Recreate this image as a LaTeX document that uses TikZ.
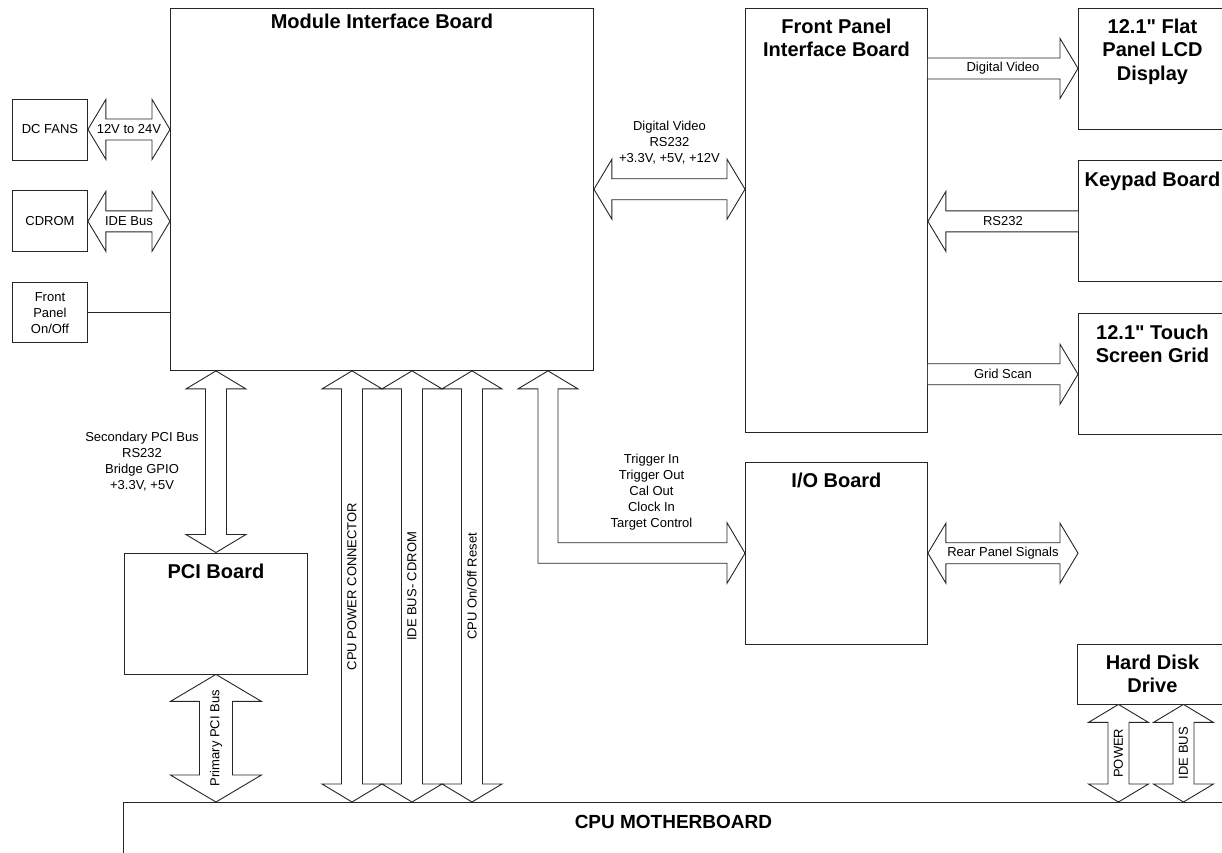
\documentclass[tikz,border=0pt]{standalone}
\usepackage{fontspec}
\setmainfont{Liberation Sans}[Ligatures=TeXOff]
\usetikzlibrary{calc, positioning}

\newcommand{\headlen}{18pt}
\newcommand{\headhw}{30pt}
\newcommand{\shafthw}{10.5pt}

% hollow bus arrow with heads at both ends
\newcommand{\busarrow}[5][]{%
  \path ($(#3)!\headlen!(#4)$) coordinate (ha) ($(#4)!\headlen!(#3)$) coordinate (hb);
  \draw[blockarrow] (#3) -- ($(ha)!\headhw!90:(#4)$) -- ($(ha)!\shafthw!90:(#4)$)
    -- ($(hb)!\shafthw!-90:(#3)$) -- ($(hb)!\headhw!-90:(#3)$) -- (#4)
    -- ($(hb)!\headhw!90:(#3)$) -- ($(hb)!\shafthw!90:(#3)$)
    -- ($(ha)!\shafthw!-90:(#4)$) -- ($(ha)!\headhw!-90:(#4)$) -- cycle;
  \node[lbl, #1] (#2) at ($(#3)!.5!(#4)$) {#5};
}
% hollow signal arrow, one head
\newcommand{\sigarrow}[5][]{%
  \path ($(#4)!\headlen!(#3)$) coordinate (hb);
  \draw[blockarrow] ($(#3)!\shafthw!90:(#4)$) -- ($(hb)!\shafthw!-90:(#3)$)
    -- ($(hb)!\headhw!-90:(#3)$) -- (#4) -- ($(hb)!\headhw!90:(#3)$)
    -- ($(hb)!\shafthw!90:(#3)$) -- ($(#3)!\shafthw!-90:(#4)$);
  \node[lbl, #1] (#2) at ($(#3)!.5!(#4)$) {#5};
}

\begin{document}
\begin{tikzpicture}[
    x=1pt, y=-1pt,
    box/.style={draw=black!85, line width=0.9pt, rectangle, inner sep=0pt},
    title/.style={inner sep=0pt, align=center, font=\fontsize{20}{23.5}\selectfont\bfseries},
    lbl/.style={inner sep=0pt, align=center, font=\fontsize{13}{16}\selectfont},
    blockarrow/.style={draw=black!85, line width=0.9pt, fill=white},
  ]
  \clip (0,0) rectangle (1222,852);

  % boards
  \node[box, anchor=north west, minimum width=423pt, minimum height=362.5pt] (mib) at (170,7.5) {};
  \node[box, anchor=north west, minimum width=182pt, minimum height=424.5pt] (fpib) at (745,7.5) {};
  \node[box, anchor=north west, minimum width=148pt, minimum height=121pt] (lcd) at (1078,7.5) {};
  \node[box, below=31pt of lcd, minimum width=148pt, minimum height=121pt] (keypad) {};
  \node[box, below=31pt of keypad, minimum width=148pt, minimum height=121pt] (touch) {};
  \node[box, lbl, anchor=north west, minimum width=75pt, minimum height=61pt] (fans) at (12,98.5) {DC FANS};
  \node[box, lbl, below=30pt of fans, minimum width=75pt, minimum height=61pt] (cdrom) {CDROM};
  \node[box, lbl, below=30pt of cdrom, minimum width=75pt, minimum height=60pt] (onoff) {Front\\Panel\\On/Off};
  \node[box, anchor=north west, minimum width=183pt, minimum height=121pt] (pci) at (124,552.5) {};
  \node[box, anchor=north west, minimum width=182pt, minimum height=181.5pt] (io) at (745,462) {};
  \node[box, anchor=north west, minimum width=150pt, minimum height=60pt] (hdd) at (1077,643.5) {};
  \node[box, anchor=north west, minimum width=1100pt, minimum height=100pt] (cpu) at (123,802) {};

  % titles
  \node[title, below=6pt of mib.north] (mibT) {Module Interface Board};
  \node[title, below=11pt of fpib.north] (fpibT) {Front Panel\\Interface Board};
  \node[title, below=11pt of lcd.north] (lcdT) {12.1" Flat\\Panel LCD\\Display};
  \node[title, below=11pt of keypad.north] (keypadT) {Keypad Board};
  \node[title, below=11pt of touch.north] (touchT) {12.1" Touch\\Screen Grid};
  \node[title, below=11pt of pci.north] (pciT) {PCI Board};
  \node[title, below=11pt of io.north] (ioT) {I/O Board};
  \node[title, below=11pt of hdd.north] (hddT) {Hard Disk\\Drive};
  \node[title, below=13pt of cpu.north, font=\fontsize{19}{22}\selectfont\bfseries] (cpuT) {CPU MOTHERBOARD};

  % left side
  \coordinate (fansR) at (mib.west |- fans.east);
  \busarrow{fansA}{fans.east}{fansR}{12V to 24V}
  \coordinate (cdromR) at (mib.west |- cdrom.east);
  \busarrow{cdromA}{cdrom.east}{cdromR}{IDE Bus}
  \draw[black!85, line width=0.9pt] (onoff.east) -- (mib.west |- onoff.east);

  % module board <-> front panel board
  \coordinate (dvR) at (fpib.west |- mib.east);
  \busarrow{dvA}{mib.east}{dvR}{}
  \node[lbl] (dvlbl) at ($(dvA)+(0,-46.5)$) {Digital Video\\RS232\\+3.3V, +5V, +12V};

  % front panel board outputs
  \coordinate (lcdL) at (fpib.east |- lcd.west);
  \sigarrow{lcdA}{lcdL}{lcd.west}{Digital Video}
  \coordinate (keypadL) at (fpib.east |- keypad.west);
  \sigarrow{keypadA}{keypad.west}{keypadL}{RS232}
  \coordinate (touchL) at (fpib.east |- touch.west);
  \sigarrow{touchA}{touchL}{touch.west}{Grid Scan}

  % I/O board
  \coordinate (rearR) at (io.east -| keypad.west);
  \busarrow{rearA}{io.east}{rearR}{Rear Panel Signals}
  \coordinate (ioTop) at ([xshift=378pt]mib.south west);
  \draw[blockarrow] (ioTop) -- ++(30,18) -- ++(-20,0) |- ($(io.west)+(-18,-10.5)$) -- ++(0,-20)
    -- (io.west) -- ++(-18,30) -- ++(0,-20) -| ($(ioTop)+(-10,18)$) -- ++(-20,0) -- cycle;
  \node[lbl] (iolbl) at ($(io.west)+(-93.5,-61)$) {Trigger In\\Trigger Out\\Cal Out\\Clock In\\Target Control};

  % PCI board
  \coordinate (secT) at (pci.north |- mib.south);
  \busarrow{secA}{secT}{pci.north}{}
  \node[lbl, anchor=east] (seclbl) at ($(secA)+(-17,0)$) {Secondary PCI Bus\\RS232\\Bridge GPIO\\+3.3V, +5V};
  \begin{scope}
    \renewcommand{\headlen}{27pt}\renewcommand{\headhw}{45.5pt}\renewcommand{\shafthw}{16.5pt}
    \coordinate (priB) at (pci.south |- cpu.north);
    \busarrow[rotate=90]{priA}{pci.south}{priB}{Primary PCI Bus}
  \end{scope}

  % module board <-> motherboard
  \foreach \dx/\txt [count=\i] in {182/{CPU POWER CONNECTOR}, 242/{IDE BUS- CDROM}, 302/{CPU On/Off Reset}} {
    \coordinate (cpuT\i) at ([xshift=\dx pt]mib.south west);
    \coordinate (cpuB\i) at (cpuT\i |- cpu.north);
    \busarrow[rotate=90]{cpuA\i}{cpuT\i}{cpuB\i}{\txt}
  }

  % hard disk
  \coordinate (pwT) at ([xshift=-34pt]hdd.south);
  \coordinate (pwB) at (pwT |- cpu.north);
  \busarrow[rotate=90]{pwA}{pwT}{pwB}{POWER}
  \coordinate (ideT) at ([xshift=31pt]hdd.south);
  \coordinate (ideB) at (ideT |- cpu.north);
  \busarrow[rotate=90]{ideA}{ideT}{ideB}{IDE BUS}
\end{tikzpicture}
\end{document}
